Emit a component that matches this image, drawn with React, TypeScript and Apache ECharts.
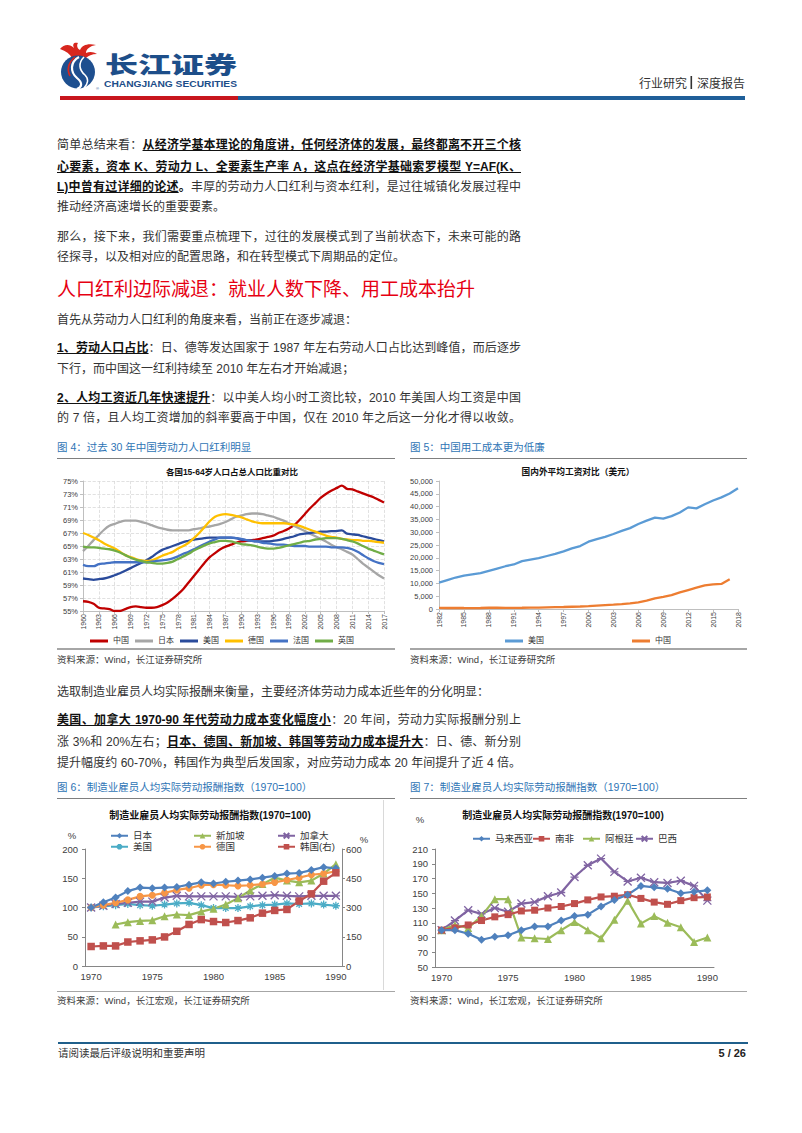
import React, { useEffect, useRef } from "react";
import * as echarts from "echarts";

const FONT = '"Liberation Sans", "Noto Sans CJK SC", sans-serif';

// ---------- Chart 4 data ----------
const title4 = "各国15-64岁人口占总人口比重对比";
const years4 = ["1960","1961","1962","1963","1964","1965","1966","1967","1968","1969","1970","1971","1972","1973","1974","1975","1976","1977","1978","1979","1980","1981","1982","1983","1984","1985","1986","1987","1988","1989","1990","1991","1992","1993","1994","1995","1996","1997","1998","1999","2000","2001","2002","2003","2004","2005","2006","2007","2008","2009","2010","2011","2012","2013","2014","2015","2016","2017"];
const names4 = ["中国", "日本", "美国", "德国", "法国", "英国"];
const colors4 = ["#c00000", "#a6a6a6", "#2a4b9b", "#ffc000", "#4472c4", "#70ad47"];
const china4 = [56.5,56.4,56.1,55.5,55.4,55.3,55.0,55.0,55.3,55.6,55.7,55.6,55.5,55.5,55.6,55.9,56.3,56.9,57.6,58.4,59.4,60.4,61.4,62.4,63.3,63.9,64.5,64.9,65.2,65.5,65.7,65.8,65.9,66.0,66.2,66.4,66.6,67.0,67.3,67.7,68.2,69.0,69.9,70.8,71.6,72.4,73.0,73.5,73.9,74.3,73.8,73.7,73.4,73.1,72.8,72.5,72.1,71.7];
const japan4 = [64.2,65.0,65.9,66.7,67.5,68.1,68.4,68.7,68.9,68.9,68.9,68.7,68.5,68.2,67.9,67.7,67.5,67.4,67.4,67.4,67.4,67.6,67.7,67.9,68.0,68.2,68.4,68.7,69.1,69.5,69.7,69.9,70.0,70.0,69.9,69.7,69.5,69.2,68.9,68.5,68.1,67.7,67.3,66.9,66.5,66.1,65.7,65.2,64.8,64.5,64.1,63.7,63.0,62.3,61.7,61.1,60.5,60.0];
const usa4 = [60.0,59.9,59.8,59.9,60.0,60.2,60.5,60.8,61.2,61.6,62.0,62.4,62.8,63.3,63.9,64.4,64.7,65.0,65.3,65.6,65.8,66.0,66.1,66.2,66.3,66.3,66.3,66.3,66.3,66.2,66.0,65.9,65.8,65.7,65.7,65.7,65.8,65.9,66.1,66.3,66.5,66.8,66.9,67.0,67.1,67.2,67.2,67.3,67.3,67.4,66.9,66.8,66.7,66.5,66.3,66.1,65.9,65.7];
const germany4 = [67.0,66.7,66.3,65.9,65.4,65.0,64.6,64.1,63.6,63.3,63.0,62.8,62.7,62.8,63.1,63.5,63.8,64.1,64.6,65.0,65.5,66.2,67.0,67.9,68.8,69.5,69.8,69.9,69.8,69.6,69.4,69.1,68.8,68.6,68.5,68.5,68.5,68.5,68.5,68.4,68.3,68.1,67.8,67.5,67.2,66.9,66.6,66.4,66.3,66.1,66.0,65.9,65.9,65.8,65.8,65.7,65.6,65.5];
const france4 = [62.1,61.9,61.9,62.2,62.3,62.4,62.5,62.5,62.5,62.5,62.5,62.5,62.5,62.6,62.7,62.8,62.9,63.1,63.4,63.8,64.1,64.5,64.9,65.3,65.7,66.0,66.3,66.3,66.3,66.2,66.1,65.9,65.8,65.7,65.5,65.4,65.3,65.2,65.2,65.1,65.0,65.0,65.0,64.9,64.9,64.9,64.9,64.8,64.8,64.8,64.7,64.5,64.1,63.6,63.1,62.7,62.4,62.2];
const uk4 = [64.9,64.8,64.8,64.7,64.6,64.5,64.3,64.0,63.6,63.2,62.9,62.7,62.5,62.4,62.3,62.3,62.4,62.6,63.0,63.4,63.8,64.3,64.7,65.1,65.4,65.6,65.8,65.8,65.7,65.5,65.3,65.2,65.1,64.9,64.7,64.6,64.6,64.7,64.9,65.1,65.3,65.5,65.7,65.8,66.0,66.1,66.2,66.2,66.2,66.1,65.9,65.7,65.4,65.0,64.6,64.3,64.0,63.7];
const data4 = [china4, japan4, usa4, germany4, france4, uk4];

// ---------- Chart 5 data ----------
const title5 = "国内外平均工资对比（美元）";
const years5 = ["1982","1983","1984","1985","1986","1987","1988","1989","1990","1991","1992","1993","1994","1995","1996","1997","1998","1999","2000","2001","2002","2003","2004","2005","2006","2007","2008","2009","2010","2011","2012","2013","2014","2015","2016","2017","2018"];
const usa5 = [10300,11300,12300,13000,13500,14000,14900,15800,16700,17400,18700,19300,19900,20700,21500,22500,23700,24600,26300,27300,28200,29300,30500,31600,33200,34500,35700,35300,36300,37700,39700,39300,40900,42400,43600,45100,47200];
const china5 = [420,400,450,390,370,390,480,520,450,450,480,560,520,660,750,780,880,980,1130,1310,1500,1690,1900,2200,2620,3280,4160,4720,5400,6470,7410,8320,9200,9650,9800,11600,null];

// ---------- Chart 6 data ----------
const title67 = "制造业雇员人均实际劳动报酬指数(1970=100)";
const years70 = ["1970","1971","1972","1973","1974","1975","1976","1977","1978","1979","1980","1981","1982","1983","1984","1985","1986","1987","1988","1989","1990"];
const japan6 = [100,109,117,128,134,133,134,135,139,143,141,144,146,148,151,154,158,159,164,169,167];
const singapore6 = [null,null,71,75,77,78,85,88,87,93,98,105,116,129,140,151,146,143,146,158,174];
const canada6 = [100,103,106,108,110,110,117,120,119,119,119,119,118,119,120,121,120,119,120,120,120];
const usa6 = [100,102,104,106,104,103,105,107,108,104,99,99,99,102,104,105,107,106,107,105,103];
const germany6 = [100,104,108,113,119,121,125,130,133,138,139,138,137,138,140,143,147,151,156,158,162];
const korea6 = [100,103,103,123,129,134,149,178,213,238,228,223,233,247,271,285,290,333,370,435,478];

// ---------- Chart 7 data ----------
const malaysia7 = [100,100,95,87,91,93,100,105,105,113,119,121,132,141,148,160,158,156,150,152,154];
const safrica7 = [100,103,107,113,118,121,126,127,130,132,136,141,145,146,148,143,138,135,140,144,145];
const argentina7 = [100,107,103,119,142,142,90,89,88,100,111,100,89,114,140,109,119,110,104,84,90];
const brazil7 = [100,113,127,122,130,125,136,138,146,151,172,188,197,179,166,171,165,164,167,160,140];

const X_SYMBOL = "path://M0,0L10,10M10,0L0,10M0,5L10,5";
const STAR_SYMBOL = "path://M0,5L10,5M5,0L5,10M1.5,1.5L8.5,8.5M8.5,1.5L1.5,8.5";

function Chart({ option, style }: { option: any; style: any }) {
  const ref = useRef<HTMLDivElement>(null);
  useEffect(() => {
    const c = echarts.init(ref.current!, null, { renderer: "svg" });
    c.setOption(option);
    return () => c.dispose();
  }, []);
  return <div ref={ref} style={{ position: "absolute", ...style }} />;
}

const gridGray = "#d9d9d9";
const axisGray = "#bfbfbf";

const opt4 = {
  animation: false,
  textStyle: { fontFamily: FONT },
  grid: { left: 28, right: 11, top: 19, bottom: 37 },
  graphic: [
    { type: "text", x: 177, y: 10, style: { text: title4, fill: "#111", font: `bold 8.5px ${FONT}`, textAlign: "center", textVerticalAlign: "middle" } },
  ],
  legend: { left: 30, top: 170, icon: "rect", itemWidth: 18, itemHeight: 3, itemGap: 6, textStyle: { fontSize: 8, color: "#333", fontFamily: FONT }, data: names4 },
  xAxis: {
    type: "category", data: years4, boundaryGap: false,
    axisLine: { lineStyle: { color: axisGray } },
    axisTick: { show: true, interval: 2, length: 3, lineStyle: { color: axisGray } },
    axisLabel: { rotate: 90, interval: 2, fontSize: 7, color: "#404040", margin: 3 },
    splitLine: { show: true, interval: 2, lineStyle: { type: "dashed", color: gridGray, width: 0.8 } },
  },
  yAxis: {
    type: "value", min: 55, max: 75, interval: 2,
    axisLine: { show: true, lineStyle: { color: axisGray } },
    axisTick: { show: true, length: 3, lineStyle: { color: axisGray } },
    axisLabel: { fontSize: 7.5, color: "#404040", margin: 5, formatter: (v: number) => v + "%" },
    splitLine: { show: true, lineStyle: { type: "dashed", color: gridGray, width: 0.8 } },
  },
  series: names4.map((n, i) => ({
    name: n, type: "line", data: data4[i], smooth: 0.3, showSymbol: false,
    lineStyle: { width: 2.3, color: colors4[i] }, itemStyle: { color: colors4[i] },
  })),
};

const opt5 = {
  animation: false,
  textStyle: { fontFamily: FONT },
  grid: { left: 34, right: 7, top: 19, bottom: 39 },
  graphic: [
    { type: "text", x: 173, y: 10, style: { text: title5, fill: "#111", font: `bold 8.7px ${FONT}`, textAlign: "center", textVerticalAlign: "middle" } },
  ],
  legend: [
    { left: 95, top: 170, icon: "rect", itemWidth: 18, itemHeight: 3, textStyle: { fontSize: 8, color: "#333" }, data: ["美国"] },
    { left: 222, top: 170, icon: "rect", itemWidth: 18, itemHeight: 3, textStyle: { fontSize: 8, color: "#333" }, data: ["中国"] },
  ],
  xAxis: {
    type: "category", data: years5, boundaryGap: false,
    axisLine: { lineStyle: { color: axisGray } },
    axisTick: { show: true, interval: 2, length: 3, lineStyle: { color: axisGray } },
    axisLabel: { rotate: 90, interval: 2, fontSize: 7, color: "#404040", margin: 3 },
  },
  yAxis: {
    type: "value", min: 0, max: 50000, interval: 5000,
    axisLine: { show: true, lineStyle: { color: axisGray } },
    axisTick: { show: true, length: 3, lineStyle: { color: axisGray } },
    axisLabel: { fontSize: 7.5, color: "#404040", margin: 6, formatter: (v: number) => v.toLocaleString("en-US") },
    splitLine: { show: false },
  },
  series: [
    { name: "美国", type: "line", data: usa5, showSymbol: false, lineStyle: { width: 2.3, color: "#5b9bd5" }, itemStyle: { color: "#5b9bd5" } },
    { name: "中国", type: "line", data: china5, showSymbol: false, lineStyle: { width: 2.3, color: "#ed7d31" }, itemStyle: { color: "#ed7d31" } },
  ],
};

const legendItem = (name: string, left: number, top: number) => ({
  left, top, itemWidth: 17, itemHeight: 7, itemGap: 0,
  textStyle: { fontSize: 9.5, color: "#333", fontFamily: FONT }, data: [name],
});

const lineSeries = (name: string, data: any[], color: string, symbol: string, size: number, extra: any = {}) => ({
  name, type: "line", data, symbol, symbolSize: size, showSymbol: true,
  lineStyle: { width: 2.2, color },
  itemStyle: { color, ...(extra.itemStyle || {}) },
  ...(extra.yAxisIndex != null ? { yAxisIndex: extra.yAxisIndex } : {}),
});

const axisDark = "#868686";
const catAxis67 = {
  type: "category", data: years70, boundaryGap: true,
  axisLine: { lineStyle: { color: axisDark } },
  axisTick: { show: false },
  axisLabel: { interval: 4, fontSize: 9.5, color: "#404040", margin: 6 },
};

const opt6 = {
  animation: false,
  textStyle: { fontFamily: FONT },
  grid: { left: 30, right: 53, top: 49, bottom: 24 },
  graphic: [
    { type: "text", x: 155, y: 15, style: { text: title67, fill: "#111", font: `bold 10px ${FONT}`, textAlign: "center", textVerticalAlign: "middle" } },
    { type: "text", x: 17, y: 35, style: { text: "%", fill: "#404040", font: `9.5px ${FONT}`, textAlign: "center", textVerticalAlign: "middle" } },
    { type: "text", x: 309, y: 39, style: { text: "%", fill: "#404040", font: `9.5px ${FONT}`, textAlign: "center", textVerticalAlign: "middle" } },
  ],
  legend: [
    legendItem("日本", 50, 26), legendItem("新加坡", 133, 26), legendItem("加拿大", 217, 26),
    legendItem("美国", 50, 37), legendItem("德国", 133, 37), legendItem("韩国(右)", 217, 37),
  ],
  xAxis: catAxis67,
  yAxis: [
    { type: "value", min: 0, max: 200, interval: 50, axisLine: { show: true, lineStyle: { color: axisDark } }, axisTick: { show: true, length: 3, lineStyle: { color: axisDark } }, axisLabel: { fontSize: 9.5, color: "#404040", margin: 7 }, splitLine: { show: false } },
    { type: "value", min: 0, max: 600, interval: 150, position: "right", axisLine: { show: true, lineStyle: { color: axisDark } }, axisTick: { show: true, length: 3, lineStyle: { color: axisDark } }, axisLabel: { fontSize: 9.5, color: "#404040", margin: 4 }, splitLine: { show: false } },
  ],
  series: [
    lineSeries("美国", usa6, "#4bacc6", STAR_SYMBOL, 8, { itemStyle: { borderColor: "#4bacc6", borderWidth: 1.3 } }),
    lineSeries("加拿大", canada6, "#8064a2", X_SYMBOL, 8, { itemStyle: { borderColor: "#8064a2", borderWidth: 1.3 } }),
    lineSeries("新加坡", singapore6, "#9bbb59", "triangle", 8),
    lineSeries("德国", germany6, "#f79646", "circle", 7),
    lineSeries("日本", japan6, "#4f81bd", "diamond", 8),
    lineSeries("韩国(右)", korea6, "#c0504d", "rect", 7.5, { yAxisIndex: 1 }),
  ],
};

const opt7 = {
  animation: false,
  textStyle: { fontFamily: FONT },
  grid: { left: 30, right: 31, top: 49, bottom: 23 },
  graphic: [
    { type: "text", x: 158, y: 15, style: { text: title67, fill: "#111", font: `bold 10px ${FONT}`, textAlign: "center", textVerticalAlign: "middle" } },
    { type: "text", x: 15, y: 19, style: { text: "%", fill: "#404040", font: `9.5px ${FONT}`, textAlign: "center", textVerticalAlign: "middle" } },
  ],
  legend: [
    legendItem("马来西亚", 62, 29), legendItem("南非", 122, 29), legendItem("阿根廷", 172, 29), legendItem("巴西", 225, 29),
  ],
  xAxis: catAxis67,
  yAxis: { type: "value", min: 50, max: 210, interval: 20, axisLine: { show: true, lineStyle: { color: axisDark } }, axisTick: { show: true, length: 3, lineStyle: { color: axisDark } }, axisLabel: { fontSize: 9.5, color: "#404040", margin: 7 }, splitLine: { show: false } },
  series: [
    lineSeries("巴西", brazil7, "#8064a2", X_SYMBOL, 8, { itemStyle: { borderColor: "#8064a2", borderWidth: 1.3 } }),
    lineSeries("阿根廷", argentina7, "#9bbb59", "triangle", 8),
    lineSeries("南非", safrica7, "#c0504d", "rect", 7),
    lineSeries("马来西亚", malaysia7, "#4f81bd", "diamond", 8),
  ],
};

const B = ({ children }: { children: any }) => (
  <span style={{ fontWeight: 700, textDecoration: "underline", color: "#111" }}>{children}</span>
);

function Line({ top, left = 57, width = 464, justify = false, size = 12, color = "#333", children }: any) {
  return (
    <div
      style={{
        position: "absolute", left, top: top - 9, width, height: 18, lineHeight: "18px",
        fontSize: size, color, whiteSpace: "nowrap",
        textAlign: justify ? "justify" : "left", textAlignLast: justify ? "justify" : "auto",
      } as any}
    >
      {children}
    </div>
  );
}

const Caption = ({ left, top, children }: any) => (
  <div style={{ position: "absolute", left, top: top - 8, lineHeight: "16px", fontSize: 10.5, color: "#2e74b5", whiteSpace: "nowrap" }}>{children}</div>
);

const HLine = ({ left, top, width, color, h = 1.5 }: any) => (
  <div style={{ position: "absolute", left, top, width, height: h, background: color }} />
);

const Source = ({ left, top, children }: any) => (
  <div style={{ position: "absolute", left, top: top - 7, lineHeight: "14px", fontSize: 9.5, color: "#404040", whiteSpace: "nowrap" }}>{children}</div>
);

export default function App() {
  return (
    <div style={{ position: "absolute", left: 0, top: 0, width: 802, height: 1133, background: "#fff", fontFamily: FONT, overflow: "hidden" }}>
      {/* Header */}
      <svg width={802} height={110} style={{ position: "absolute", left: 0, top: 0 }}>
        <path d="M60 49 C64 44, 70 44, 74 48 C72 44, 74 42, 78 43 C76 46, 78 49, 80 50 C82 45, 88 43, 96 45 C90 46, 86 49, 86 53 C90 51, 94 52, 97 54 C92 54, 88 56, 86 58 L72 58 C70 54, 66 51, 60 49 Z" fill="#d7261e" />
        <ellipse cx={78} cy={72} rx={17} ry={16.5} fill="#1e4f8f" />
        <path d="M79 57 C70 62, 70 72, 77 78 C83 83, 82 87, 77 89" stroke="#fff" strokeWidth={2.2} fill="none" />
        <path d="M84 57 C78 63, 79 70, 85 75 C89 79, 88 84, 84 88" stroke="#fff" strokeWidth={1.6} fill="none" />
        <path d="M75 57 C68 63, 67 70, 70 76" stroke="#d7261e" strokeWidth={1.6} fill="none" />
        <text x={96} y={90} style={{ font: `4px ${FONT}` }} fill="#1e4f8f">®</text>
        <text x={105} y={73} textLength={132} lengthAdjust="spacingAndGlyphs" style={{ font: `900 23px "Noto Sans CJK SC"` }} fill="#1d4e89">长江证券</text>
        <text x={104} y={86.5} textLength={133} lengthAdjust="spacingAndGlyphs" style={{ font: `bold 8.5px ${FONT}` }} fill="#1d4e89">CHANGJIANG SECURITIES</text>
        <text x={639} y={87.5} textLength={48} lengthAdjust="spacingAndGlyphs" style={{ font: `12px ${FONT}` }} fill="#333">行业研究</text>
        <rect x={690.5} y={76} width={1.6} height={13} fill="#333" />
        <text x={697} y={87.5} textLength={48} lengthAdjust="spacingAndGlyphs" style={{ font: `12px ${FONT}` }} fill="#333">深度报告</text>
        <rect x={60} y={96} width={178} height={4} fill="#c8161d" />
        <rect x={238} y={96} width={507} height={4} fill="#1f5f99" />
      </svg>

      {/* Paragraph 1 */}
      <Line top={145} justify>简单总结来看：<B>从经济学基本理论的角度讲，任何经济体的发展，最终都离不开三个核</B></Line>
      <Line top={166.5} justify><B>心要素，资本 K、劳动力 L、全要素生产率 A，这点在经济学基础索罗模型 Y=AF(K、</B></Line>
      <Line top={187} justify><B>L)中曾有过详细的论述</B><span style={{ fontWeight: 700, color: "#111" }}>。</span>丰厚的劳动力人口红利与资本红利，是过往城镇化发展过程中</Line>
      <Line top={207}>推动经济高速增长的重要要素。</Line>

      <Line top={236.7} justify>那么，接下来，我们需要重点梳理下，过往的发展模式到了当前状态下，未来可能的路</Line>
      <Line top={256.7}>径探寻，以及相对应的配置思路，和在转型模式下周期品的定位。</Line>

      <div style={{ position: "absolute", left: 57, top: 278, lineHeight: "24px", fontSize: 19, color: "#e60012", whiteSpace: "nowrap" }}>
        人口红利边际减退：就业人数下降、用工成本抬升
      </div>

      <Line top={320}>首先从劳动力人口红利的角度来看，当前正在逐步减退：</Line>
      <Line top={348.3} justify><B>1、劳动人口占比</B>：日、德等发达国家于 1987 年左右劳动人口占比达到峰值，而后逐步</Line>
      <Line top={369.3}>下行，而中国这一红利持续至 2010 年左右才开始减退；</Line>
      <Line top={398.3} justify><B>2、人均工资近几年快速提升</B>：以中美人均小时工资比较，2010 年美国人均工资是中国</Line>
      <Line top={418.3} justify>的 7 倍，且人均工资增加的斜率要高于中国，仅在 2010 年之后这一分化才得以收敛。</Line>

      <Caption left={57} top={446.7}>图 4：过去 30 年中国劳动力人口红利明显</Caption>
      <Caption left={410} top={446.7}>图 5：中国用工成本更为低廉</Caption>
      <HLine left={57} top={457.5} width={338} color="#7f7f7f" />
      <HLine left={410} top={457.5} width={337} color="#7f7f7f" />

      <Chart option={opt4} style={{ left: 55, top: 462, width: 340, height: 186 }} />
      <Chart option={opt5} style={{ left: 405, top: 462, width: 340, height: 186 }} />

      <HLine left={57} top={648} width={338} color="#a6a6a6" />
      <HLine left={410} top={648} width={337} color="#a6a6a6" />
      <Source left={57} top={660}>资料来源：Wind，长江证券研究所</Source>
      <Source left={410} top={660}>资料来源：Wind，长江证券研究所</Source>

      <Line top={691.7}>选取制造业雇员人均实际报酬来衡量，主要经济体劳动力成本近些年的分化明显：</Line>
      <Line top={720} justify><B>美国、加拿大 1970-90 年代劳动力成本变化幅度小</B>：20 年间，劳动力实际报酬分别上</Line>
      <Line top={741.7} justify>涨 3%和 20%左右；<B>日本、德国、新加坡、韩国等劳动力成本提升大</B>：日、德、新分别</Line>
      <Line top={763.3} justify>提升幅度约 60-70%，韩国作为典型后发国家，对应劳动力成本 20 年间提升了近 4 倍。</Line>

      <Caption left={57} top={787}>图 6：制造业雇员人均实际劳动报酬指数（1970=100）</Caption>
      <Caption left={410} top={787}>图 7：制造业雇员人均实际劳动报酬指数（1970=100）</Caption>
      <HLine left={57} top={797.5} width={338} color="#7f7f7f" />
      <HLine left={410} top={797.5} width={337} color="#7f7f7f" />
      <div style={{ position: "absolute", left: 383, top: 800, width: 1, height: 190, background: "#d9d9d9" }} />

      <Chart option={opt6} style={{ left: 55, top: 800, width: 340, height: 190 }} />
      <Chart option={opt7} style={{ left: 405, top: 800, width: 340, height: 190 }} />

      <HLine left={57} top={990.5} width={338} color="#a6a6a6" />
      <HLine left={410} top={990.5} width={337} color="#a6a6a6" />
      <Source left={57} top={1001}>资料来源：Wind，长江宏观，长江证券研究所</Source>
      <Source left={410} top={1001}>资料来源：Wind，长江宏观，长江证券研究所</Source>

      {/* Footer */}
      <HLine left={58} top={1042} width={690} color="#1f5f8b" />
      <div style={{ position: "absolute", left: 58, top: 1045, lineHeight: "16px", fontSize: 10.5, color: "#333", whiteSpace: "nowrap" }}>请阅读最后评级说明和重要声明</div>
      <div style={{ position: "absolute", right: 802 - 746, top: 1045, lineHeight: "16px", fontSize: 11, fontWeight: 700, color: "#222", whiteSpace: "nowrap" }}>5 / 26</div>
    </div>
  );
}
